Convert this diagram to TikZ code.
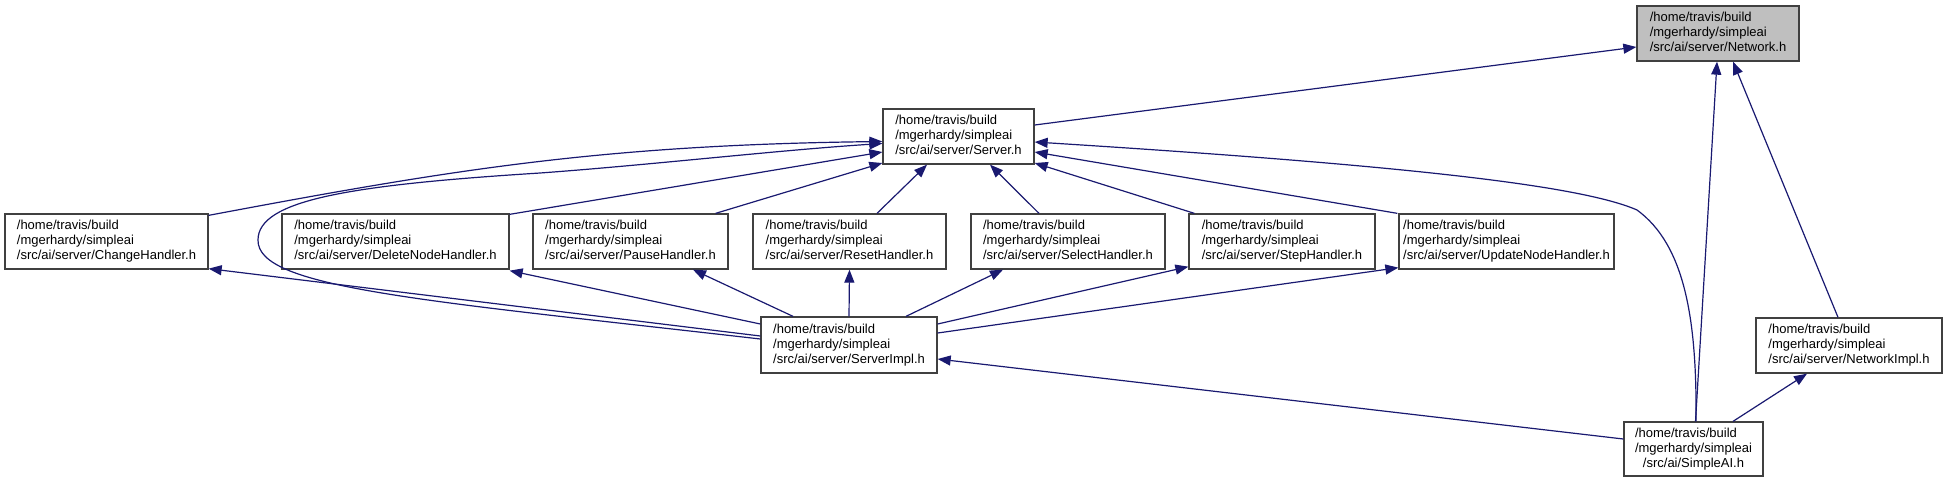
\documentclass[tikz,border=0pt]{standalone}
\usepackage{fontspec}
\setmainfont{Liberation Sans}
\usetikzlibrary{arrows.meta,calc}
\definecolor{edgecol}{HTML}{191970}
\definecolor{boxcol}{HTML}{404040}
\definecolor{hilite}{HTML}{BFBFBF}
\newcommand{\dlabel}[3]{\begin{tabular}{@{}l@{}}#1\\#2\\\multicolumn{1}{@{}c@{}}{#3}\end{tabular}}
\begin{document}
\begin{tikzpicture}[x=1pt,y=-1pt,
  filebox/.style={draw=boxcol, line width=1.3pt, fill=white, inner sep=0pt,
    minimum height=55pt, font=\fontsize{13}{15}\selectfont},
  edge/.style={draw=edgecol, line width=1.2pt, -{Triangle[length=13pt,width=10pt]}}]
\useasboundingbox (0,0) rectangle (1948,483);
% nodes
\node[filebox, fill=hilite, minimum width=162pt] (net) at (1718,33.5) {\dlabel{/home/travis/build}{/mgerhardy/simpleai}{/src/ai/server/Network.h}};
\node[filebox, minimum width=151pt] (srv) at (958.5,136.5) {\dlabel{/home/travis/build}{/mgerhardy/simpleai}{/src/ai/server/Server.h}};
\node[filebox, minimum width=203pt] (chg) at (106.5,241.5) {\dlabel{/home/travis/build}{/mgerhardy/simpleai}{/src/ai/server/ChangeHandler.h}};
\node[filebox, minimum width=227pt] (del) at (395.5,241.5) {\dlabel{/home/travis/build}{/mgerhardy/simpleai}{/src/ai/server/DeleteNodeHandler.h}};
\node[filebox, minimum width=195pt] (pau) at (630.5,241.5) {\dlabel{/home/travis/build}{/mgerhardy/simpleai}{/src/ai/server/PauseHandler.h}};
\node[filebox, minimum width=193pt] (rst) at (849.5,241.5) {\dlabel{/home/travis/build}{/mgerhardy/simpleai}{/src/ai/server/ResetHandler.h}};
\node[filebox, minimum width=194pt] (sel) at (1068,241.5) {\dlabel{/home/travis/build}{/mgerhardy/simpleai}{/src/ai/server/SelectHandler.h}};
\node[filebox, minimum width=186pt] (stp) at (1282,241.5) {\dlabel{/home/travis/build}{/mgerhardy/simpleai}{/src/ai/server/StepHandler.h}};
\node[filebox, minimum width=215pt] (upd) at (1506.5,241.5) {\dlabel{/home/travis/build}{/mgerhardy/simpleai}{/src/ai/server/UpdateNodeHandler.h}};
\node[filebox, minimum width=176pt, minimum height=56pt] (simpl) at (849,345) {\dlabel{/home/travis/build}{/mgerhardy/simpleai}{/src/ai/server/ServerImpl.h}};
\node[filebox, minimum width=186pt] (nimpl) at (1849,345.5) {\dlabel{/home/travis/build}{/mgerhardy/simpleai}{/src/ai/server/NetworkImpl.h}};
\node[filebox, minimum width=139pt, minimum height=54pt] (sai) at (1693.5,449) {\dlabel{/home/travis/build}{/mgerhardy/simpleai}{/src/ai/SimpleAI.h}};
% edges to Network.h
\draw[edge] ($(srv.east)+(0,-11.5)$) -- ($(net.west)+(0,13.5)$);
\draw[edge] ($(sai.north)+(2,0)$) -- ($(net.south)+(-1,0)$);
\draw[edge] ($(nimpl.north)+(-11,0)$) -- ($(net.south)+(15,0)$);
% edges to NetworkImpl.h / ServerImpl.h from SimpleAI.h
\draw[edge] ($(sai.north)+(39.5,0)$) -- ($(nimpl.south)+(-42,0)$);
\draw[edge] ($(sai.west)+(0,-10)$) -- ($(simpl.east)+(0,14)$);
% SimpleAI.h -> Server.h (curve)
\draw[edge] ($(sai.north)+(2.5,0)$) .. controls (1697,320) and (1685,245) .. (1637,210)
  .. controls (1580,185) and (1400,165) .. ($(srv.east)+(0,5.5)$);
% ServerImpl.h -> Server.h (curve round the left)
\draw[edge] ($(simpl.west)+(0,-6)$) .. controls (420,300) and (257,288) .. (258,240)
  .. controls (258,200) and (350,185) .. (540,173)
  .. controls (650,165) and (780,150) .. ($(srv.west)+(0,7)$);
% handlers -> Server.h
\draw[edge] ($(chg.north east)+(0,2)$) .. controls (450,170) and (600,145) .. ($(srv.west)+(0,5)$);
\draw[edge] ($(del.north east)+(0,1)$) -- ($(srv.west)+(0,15.5)$);
\draw[edge] ($(pau.north east)+(-13,0)$) -- ($(srv.west)+(0,26.5)$);
\draw[edge] ($(rst.north)+(27.5,0)$) -- ($(srv.south)+(-31.5,0)$);
\draw[edge] ($(sel.north)+(-29,0)$) -- ($(srv.south)+(31.5,0)$);
\draw[edge] ($(stp.north west)+(6,0)$) -- ($(srv.east)+(0,26.5)$);
\draw[edge] ($(upd.north west)+(-1,0)$) -- ($(srv.east)+(0,15.5)$);
% ServerImpl.h -> handlers
\draw[edge] ($(simpl.west)+(0,-9)$) -- ($(chg.south east)+(0,-1)$);
\draw[edge] ($(simpl.west)+(0,-21)$) -- ($(del.south east)+(0,1)$);
\draw[edge] ($(simpl.north)+(-56,0)$) -- ($(pau.south)+(62.5,0)$);
\draw[edge] (simpl.north) -- (rst.south);
\draw[edge] ($(simpl.north)+(57,0)$) -- ($(sel.south)+(-65,0)$);
\draw[edge] ($(simpl.east)+(0,-21)$) -- ($(stp.south west)+(0,-3)$);
\draw[edge] ($(simpl.east)+(0,-12)$) -- ($(upd.south west)+(0,-2)$);
\end{tikzpicture}
\end{document}
